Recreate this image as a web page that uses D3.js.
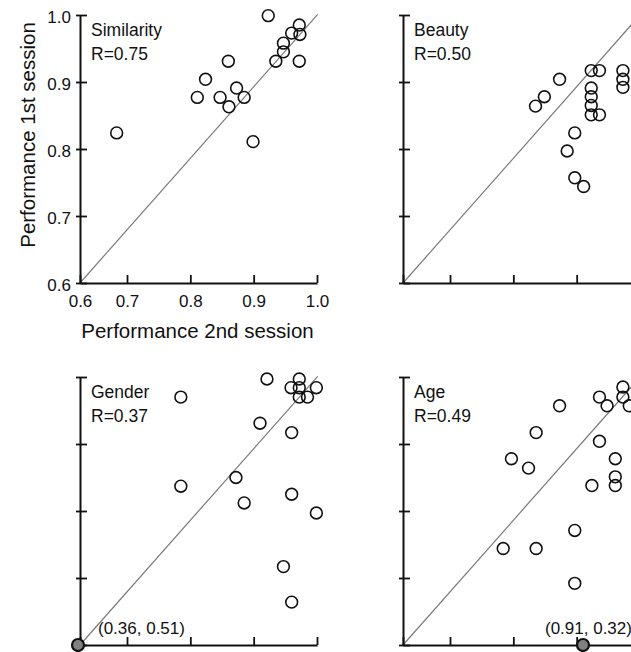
<!DOCTYPE html>
<html>
<head>
<meta charset="utf-8">
<script src="https://cdn.jsdelivr.net/npm/d3@7"></script>
<style>
  html, body { margin: 0; padding: 0; background: #fff; }
  svg { display: block; font-family: "Liberation Sans", Arial, Helvetica, sans-serif; }
</style>
</head>
<body>
<svg id="chart" width="631" height="652"></svg>
<script>
// ---- data (x = performance 2nd session, y = performance 1st session) ----
const tickValues = [0.6, 0.7, 0.8, 0.9, 1.0];
const tickLabels = ["0.6", "0.7", "0.8", "0.9", "1.0"];

const similarityPoints = [
  [0.678, 0.824], [0.811, 0.877], [0.824, 0.904], [0.860, 0.931], [0.847, 0.877],
  [0.861, 0.863], [0.873, 0.891], [0.885, 0.877], [0.899, 0.811], [0.923, 0.999],
  [0.935, 0.931], [0.947, 0.945], [0.947, 0.958], [0.960, 0.973], [0.972, 0.985],
  [0.973, 0.971], [0.972, 0.931]
];
const beautyPoints = [
  [0.835, 0.864], [0.849, 0.878], [0.873, 0.904], [0.923, 0.917], [0.936, 0.917],
  [0.923, 0.891], [0.923, 0.878], [0.923, 0.865], [0.923, 0.851], [0.936, 0.851],
  [0.973, 0.917], [0.973, 0.904], [0.973, 0.892], [0.897, 0.824], [0.885, 0.797],
  [0.897, 0.757], [0.911, 0.744]
];
const genderPoints = [
  [0.785, 0.970], [0.921, 0.997], [0.972, 0.997], [0.959, 0.984], [0.972, 0.984],
  [0.999, 0.984], [0.972, 0.970], [0.985, 0.970], [0.910, 0.931], [0.960, 0.917],
  [0.872, 0.850], [0.785, 0.837], [0.960, 0.825], [0.885, 0.812], [0.999, 0.797],
  [0.947, 0.717], [0.960, 0.664]
];
const agePoints = [
  [0.973, 0.985], [0.936, 0.970], [0.973, 0.970], [0.948, 0.957], [0.983, 0.957],
  [0.873, 0.957], [0.836, 0.917], [0.936, 0.904], [0.797, 0.878], [0.824, 0.864],
  [0.961, 0.878], [0.961, 0.851], [0.961, 0.838], [0.924, 0.838], [0.897, 0.771],
  [0.784, 0.744], [0.836, 0.744], [0.897, 0.692]
];
const genderOutlier = [0.36, 0.51];
const ageOutlier = [0.91, 0.32];

const panelNames = ["Similarity", "Beauty", "Gender", "Age"];
const panelR = ["R=0.75", "R=0.50", "R=0.37", "R=0.49"];

// ---- layout ----
const svg = d3.select("#chart");
const W = 237, H = 268;
const panels = [
  { name: panelNames[0], r: panelR[0], pts: similarityPoints, ox: 80,  oy: 15,  labels: true },
  { name: panelNames[1], r: panelR[1], pts: beautyPoints,     ox: 403, oy: 15,  labels: false },
  { name: panelNames[2], r: panelR[2], pts: genderPoints,     ox: 80,  oy: 377, labels: false,
    outlier: genderOutlier, outDx: 20 },
  { name: panelNames[3], r: panelR[3], pts: agePoints,        ox: 403, oy: 377, labels: false,
    outlier: ageOutlier, outDx: -38 }
];

// The original axis is slightly non-uniform between 0.6 and 0.7
const x = d3.scaleLinear().domain([0.6, 0.7, 1.0]).range([0, 47, W]).clamp(true);
const y = d3.scaleLinear().domain([0.6, 1.0]).range([H, 0]).clamp(true);

panels.forEach(p => {
  const g = svg.append("g").attr("transform", `translate(${p.ox},${p.oy})`);

  // identity line
  g.append("line")
    .attr("x1", x(0.6)).attr("y1", y(0.6))
    .attr("x2", x(1.003) + 0.7).attr("y2", y(1.0) - 0.7)
    .attr("stroke", "#7a7a7a").attr("stroke-width", 1.2);

  // x axis
  const xa = d3.axisBottom(x).tickValues(tickValues)
    .tickSizeInner(-8).tickSizeOuter(0).tickPadding(12)
    .tickFormat((d, i) => p.labels ? tickLabels[i] : "");
  const gx = g.append("g").attr("transform", `translate(0,${H})`).call(xa);
  gx.select(".domain").attr("stroke", "#111").attr("stroke-width", 2);
  gx.selectAll(".tick line").attr("stroke", "#111").attr("stroke-width", 1.8);
  gx.selectAll(".tick text").attr("font-size", 17).attr("fill", "#111")
    .attr("font-family", "Liberation Sans, Arial, sans-serif");

  // y axis
  const ya = d3.axisLeft(y).tickValues(tickValues)
    .tickSizeInner(-7).tickSizeOuter(0).tickPadding(9)
    .tickFormat((d, i) => p.labels ? tickLabels[i] : "");
  const gy = g.append("g").call(ya);
  gy.select(".domain").attr("stroke", "#111").attr("stroke-width", 2);
  gy.selectAll(".tick line").attr("x1", -4).attr("stroke", "#111").attr("stroke-width", 1.8);
  gy.selectAll(".tick text").attr("font-size", 17).attr("fill", "#111").attr("dy", "0.42em")
    .attr("font-family", "Liberation Sans, Arial, sans-serif");

  // panel labels
  g.append("text").attr("x", 11).attr("y", 21).attr("font-size", 17.5).attr("fill", "#111")
    .text(p.name);
  g.append("text").attr("x", 11).attr("y", 45).attr("font-size", 17.5).attr("fill", "#111")
    .text(p.r);

  // points
  g.selectAll("circle.pt").data(p.pts).join("circle").attr("class", "pt")
    .attr("cx", d => x(d[0])).attr("cy", d => y(d[1])).attr("r", 5.9)
    .attr("fill", "none").attr("stroke", "#111").attr("stroke-width", 1.6);

  // off-scale outlier, drawn clamped on the axis
  if (p.outlier) {
    const cx = x(p.outlier[0]) - (p.outlier[0] < 0.6 ? 2 : 0);
    const cy = y(p.outlier[1]);
    g.append("circle").attr("cx", cx).attr("cy", cy).attr("r", 6)
      .attr("fill", "#808080").attr("stroke", "#111").attr("stroke-width", 2.2);
    g.append("text").attr("x", cx + p.outDx).attr("y", cy - 11)
      .attr("font-size", 17).attr("fill", "#111")
      .text(`(${p.outlier[0].toFixed(2)}, ${p.outlier[1].toFixed(2)})`);
  }

  if (p.labels) {
    g.append("text").attr("x", W / 2 - 1).attr("y", H + 55)
      .attr("text-anchor", "middle").attr("font-size", 20.5).attr("fill", "#111")
      .text("Performance 2nd session");
    g.append("text")
      .attr("transform", `translate(-45,${H / 2 - 14}) rotate(-90)`)
      .attr("text-anchor", "middle").attr("font-size", 20.5).attr("fill", "#111")
      .text("Performance 1st session");
  }
});
</script>
</body>
</html>
